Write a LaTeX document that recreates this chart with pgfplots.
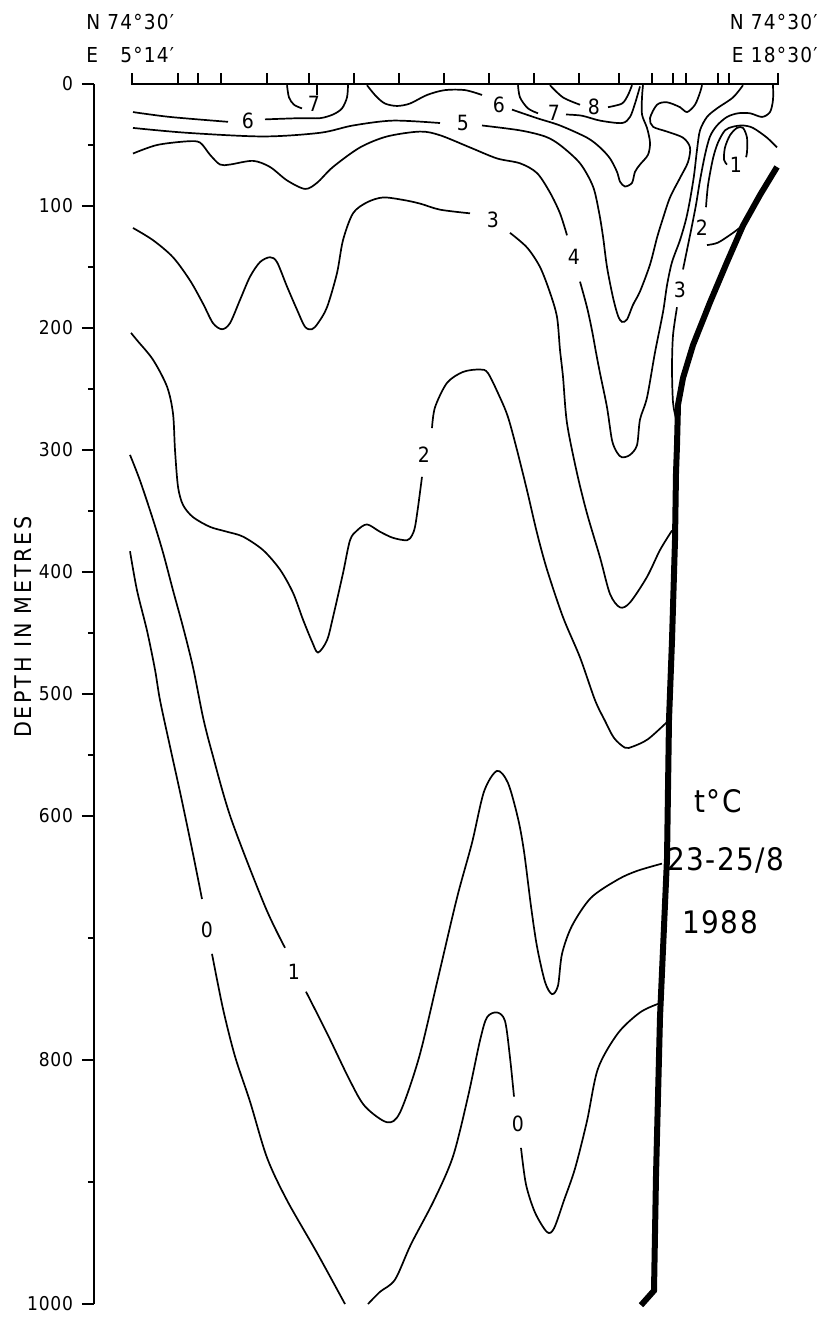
\documentclass[border=0pt]{standalone}
\usepackage{fontspec}
\setmainfont{DejaVu Sans Condensed}
\usepackage{pgfplots}
\pgfplotsset{compat=1.18}
\begin{document}
\begin{tikzpicture}[
  cl/.style={black, line width=0.85pt, smooth, tension=0.5},
  lb/.style={font=\fontsize{10.5}{10}\selectfont, inner sep=0pt},
  hd/.style={font=\fontsize{10.3}{11}\selectfont\addfontfeatures{LetterSpace=6}, inner sep=0pt},
  dt/.style={font=\fontsize{15.5}{16}\selectfont\addfontfeatures{LetterSpace=5}, inner sep=0pt},
]
\begin{axis}[
  x=0.5pt, y=0.61pt, y dir=reverse,
  xmin=94, xmax=779, ymin=0, ymax=1000,
  clip=false,
  axis x line=none,
  axis y line*=left,
  axis line style={line width=1.1pt},
  xtick=\empty,
  ytick={0,100,200,300,400,500,600,800,1000},
  minor ytick={50,150,250,350,450,550,700,900},
  tick align=outside,
  major tick length=6pt, minor tick length=3pt,
  every tick/.style={line width=1.1pt, black},
  yticklabel style={font=\fontsize{9.5}{10}\selectfont\addfontfeatures{LetterSpace=4}, xshift=-1pt},
  /pgf/number format/assume math mode=true,
  /pgf/number format/1000 sep={},
]
% surface line and station ticks
\addplot[black, line width=1.1pt] coordinates {(131,0) (779,0)};
\addplot[ycomb, black, line width=1.1pt] coordinates {(132,-9) (178,-9) (198,-9) (221,-9) (267,-9) (309,-9) (354,-9) (399,-9) (444,-9) (489,-9) (534,-9) (579,-9) (619,-9) (652,-9) (673,-9) (686,-9) (718,-9) (729,-9) (778,-9)};

% isotherm 6 (left)
\addplot[cl] coordinates {(133,23) (170,27) (228,31)};
\addplot[cl] coordinates {(265,29) (300,28) (320,28) (333,25) (342,20) (347,11) (348,1)};
% isotherm 7 (left)
\addplot[cl] coordinates {(287,1) (289,11) (294,17) (302,20)};
\addplot[cl] coordinates {(317,9) (317,1)};
% isotherm 6 (middle)
\addplot[cl] coordinates {(367,1) (376,10) (385,16) (397,18) (410,16) (427,9) (445,5) (465,5) (482,9)};
\addplot[cl] coordinates {(512,21) (537,28) (560,34) (587,44) (600,52) (610,61) (617,72) (620,80) (625,84) (632,81) (635,72) (640,66) (648,58) (650,48) (647,36) (642,25) (642,11) (643,1)};
% isotherm 7 (right)
\addplot[cl] coordinates {(518,1) (520,11) (528,20) (538,24)};
\addplot[cl] coordinates {(566,25) (582,26) (600,30) (622,32) (630,27) (635,16) (640,2)};
% isotherm 8
\addplot[cl] coordinates {(550,1) (563,11) (580,17)};
\addplot[cl] coordinates {(608,19) (622,16) (628,9) (632,1)};
% isotherm 5
\addplot[cl] coordinates {(133,36) (187,40) (263,43) (320,40) (353,34) (393,30) (440,32)};
\addplot[cl] coordinates {(482,34) (520,38) (545,43) (560,50) (580,65) (593,84) (599,105) (603,125) (607,150) (613,175) (618,190) (622,195) (627,193) (633,181) (640,170) (650,148) (657,126) (663,110) (670,93) (680,77) (688,64) (690,52) (683,44) (667,39) (653,35) (650,28) (657,17) (667,15) (680,19) (687,23) (695,17) (700,7) (702,1)};
% isotherm 4
\addplot[cl] coordinates {(133,57) (157,50) (187,47) (200,48) (210,58) (220,66) (230,66) (253,63) (270,68) (287,79) (305,86) (317,81) (333,68) (360,52) (387,43) (420,39) (440,42) (470,52) (497,61) (520,65) (537,73) (550,89) (560,106) (567,124)};
\addplot[cl] coordinates {(580,162) (587,183) (592,202) (596,220) (600,237) (607,265) (612,292) (617,302) (622,306) (630,304) (637,296) (640,275) (647,257) (655,220) (663,187) (667,165) (672,146) (680,128) (686,111) (690,95) (694,75) (697,54) (700,38) (707,27) (717,20) (733,11) (743,1)};
% isotherm 3 (left)
\addplot[cl] coordinates {(133,118) (153,128) (173,142) (190,161) (203,180) (213,196) (222,201) (230,196) (240,177) (250,158) (260,146) (270,142) (277,146) (287,166) (297,185) (305,199) (312,201) (318,196) (327,183) (337,155) (343,128) (353,106) (367,97) (383,93) (403,95) (420,98) (440,103) (470,106)};
\addplot[cl] coordinates {(510,122) (527,134) (540,150) (550,171) (557,191) (560,218) (563,240) (567,278) (577,319) (587,352) (600,388) (610,418) (620,429) (630,425) (647,404) (660,382) (672,366)};
% isotherm 3 (right)
\addplot[cl] coordinates {(773,1) (773,13) (770,23) (762,27) (750,24) (738,24) (727,27) (717,34) (710,43) (705,58) (700,79) (696,99) (691,120) (686,140) (683,152)};
\addplot[cl] coordinates {(677,183) (673,206) (672,233) (673,261) (676,274)};
% isotherm 2 (left)
\addplot[cl] coordinates {(131,204) (137,210) (153,226) (167,248) (173,270) (175,300) (178,330) (183,345) (193,355) (210,363) (227,367) (243,371) (263,382) (280,398) (293,417) (303,439) (312,457) (318,466) (327,456) (333,437) (343,401) (350,374) (357,366) (367,361) (380,367) (393,372) (407,374) (412,370) (415,363) (418,347) (422,322)};
\addplot[cl] coordinates {(432,282) (435,265) (447,245) (463,236) (480,234) (488,237) (500,257) (508,273) (517,300) (527,333) (537,368) (547,398) (563,437) (580,470) (595,505) (605,522) (614,536) (625,544) (633,543) (648,537) (667,523)};
% isotherm 2 (right)
\addplot[cl] coordinates {(706,101) (708,83) (713,61) (718,48) (725,38) (733,35) (743,34) (753,36) (767,44) (777,52)};
\addplot[cl] coordinates {(707,132) (718,130) (733,122) (741,117)};
% isotherm 1 (right)
\addplot[cl] coordinates {(727,66) (724,62) (725,52) (730,42) (737,36) (743,36) (747,44) (747,56) (746,60)};
% isotherm 1 (left)
\addplot[cl] coordinates {(130,304) (140,325) (153,357) (163,384) (173,415) (183,445) (193,478) (203,519) (212,548) (231,602) (265,674) (285,708)};
\addplot[cl] coordinates {(306,744) (327,778) (350,817) (365,838) (387,851) (400,843) (419,798) (438,733) (457,667) (472,622) (484,580) (497,563) (508,573) (518,602) (524,629) (531,674) (537,707) (545,736) (552,746) (558,739) (562,713) (572,690) (591,667) (618,652) (637,645) (662,639)};
% isotherm 0
\addplot[cl] coordinates {(130,383) (137,415) (147,448) (155,480) (160,505) (170,543) (181,584) (193,631) (202,668)};
\addplot[cl] coordinates {(212,713) (223,758) (235,797) (250,834) (267,880) (287,915) (317,958) (345,1000)};
\addplot[cl] coordinates {(368,1000) (380,990) (395,980) (411,951) (434,915) (453,879) (468,830) (480,784) (487,765) (497,761) (505,768) (510,798) (514,830)};
\addplot[cl] coordinates {(521,872) (526,902) (535,925) (547,941) (554,938) (564,915) (575,889) (587,850) (598,807) (618,778) (640,761) (658,754)};
% sea bottom
\addplot[black, line width=3pt] coordinates {(777,68) (760,91) (743,116) (727,146) (710,179) (693,214) (683,241) (678,263) (677,296) (676,319) (675,374) (672,456) (669,521) (667,635) (660,765) (656,895) (654,989) (641,1001)};

% contour labels
\node[lb] at (axis cs:248,30) {6};
\node[lb] at (axis cs:314,16) {7};
\node[lb] at (axis cs:499,17) {6};
\node[lb] at (axis cs:554,24) {7};
\node[lb] at (axis cs:594,19) {8};
\node[lb] at (axis cs:463,32) {5};
\node[lb] at (axis cs:574,142) {4};
\node[lb] at (axis cs:493,111) {3};
\node[lb] at (axis cs:680,169) {3};
\node[lb] at (axis cs:424,304) {2};
\node[lb] at (axis cs:702,118) {2};
\node[lb] at (axis cs:736,66) {1};
\node[lb] at (axis cs:294,728) {1};
\node[lb] at (axis cs:207,693) {0};
\node[lb] at (axis cs:518,852) {0};

% headers
\node[hd, anchor=west] at (axis cs:86,-51) {N 74°30′};
\node[hd, anchor=west] at (axis cs:86,-24) {E};
\node[hd, anchor=west] at (axis cs:120,-24) {5°14′};
\node[hd, anchor=east] at (axis cs:818,-51) {N 74°30′};
\node[hd, anchor=east] at (axis cs:818,-24) {E 18°30′};
% axis title
\node[rotate=90, font=\fontsize{11.5}{12}\selectfont\addfontfeatures{LetterSpace=12}, inner sep=0pt] at (axis cs:23,445) {DEPTH IN METRES};
% legend text
\node[dt] at (axis cs:718,588) {t°C};
\node[dt] at (axis cs:726,636) {23-25/8};
\node[dt] at (axis cs:720,687) {1988};

\coordinate (bbBL) at (axis cs:0,1014.75);
\coordinate (bbTR) at (axis cs:824,-68.85);
\end{axis}
\pgfresetboundingbox
\path[use as bounding box] (bbBL) rectangle (bbTR);
\end{tikzpicture}
\end{document}
